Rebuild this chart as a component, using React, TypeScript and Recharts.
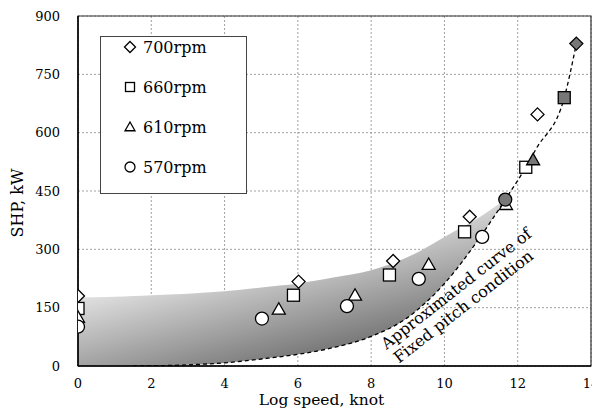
import {
  ComposedChart,
  Scatter,
  Line,
  Area,
  XAxis,
  YAxis,
  CartesianGrid,
  Legend,
  ReferenceArea,
  ReferenceDot,
} from 'recharts';

// measured points, one list per engine speed
const rpm700 = [
  { x: 0, y: 180 },
  { x: 6.02, y: 217 },
  { x: 8.6, y: 270 },
  { x: 10.69, y: 384 },
  { x: 12.54, y: 647 },
];
const rpm660 = [
  { x: 0, y: 148 },
  { x: 5.88, y: 182 },
  { x: 8.5, y: 234 },
  { x: 10.55, y: 345 },
  { x: 12.22, y: 511 },
];
const rpm610 = [
  { x: 0, y: 125 },
  { x: 5.48, y: 146 },
  { x: 7.56, y: 182 },
  { x: 9.57, y: 261 },
  { x: 11.68, y: 415 },
];
const rpm570 = [
  { x: 0, y: 101 },
  { x: 5.02, y: 122 },
  { x: 7.34, y: 154 },
  { x: 9.3, y: 224 },
  { x: 11.03, y: 332 },
];

// fixed pitch condition points (filled)
const fixed700 = [{ x: 13.6, y: 829 }];
const fixed660 = [{ x: 13.27, y: 690 }];
const fixed610 = [{ x: 12.42, y: 530 }];
const fixed570 = [{ x: 11.66, y: 428 }];

// approximated curve of fixed pitch condition
const curveX = [1.5, 2, 3, 4, 5, 6, 7, 8, 9, 10, 11, 11.66, 12.22, 12.5, 13.27, 13.6];
const curveY = [0, 0.5, 3, 8, 18, 30, 48, 76, 125, 212, 335, 428, 511, 558, 690, 829];

// shaded band: upper edge and lower edge
const bandX = [0, 1, 1.5, 2, 3, 4, 5, 6, 7, 8, 9, 10, 11, 11.66];
const bandHi = [176, 178, 180, 182, 186, 192, 202, 212, 228, 246, 280, 332, 385, 428];
const bandLo = [0, 0, 0, 0.5, 3, 8, 18, 30, 48, 76, 125, 212, 335, 428];

const xTicks = [0, 2, 4, 6, 8, 10, 12, 14];
const yTicks = [0, 150, 300, 450, 600, 750, 900];

const legendItems = [
  { kind: 'diamond', label: '700rpm' },
  { kind: 'square', label: '660rpm' },
  { kind: 'triangle', label: '610rpm' },
  { kind: 'circle', label: '570rpm' },
];

const curveData = curveX.map((x, i) => ({ x, y: curveY[i] }));
const bandData = bandX.map((x, i) => ({ x, range: [bandLo[i], bandHi[i]] }));

const FONT = '"DejaVu Serif", serif';

function Marker({ cx, cy, kind, filled, size = 6.5 }: any) {
  if (cx == null || cy == null) return null;
  const fill = filled ? '#777' : '#fff';
  const s = size;
  const common = { fill, stroke: '#000', strokeWidth: 1.3 };
  if (kind === 'diamond') {
    return <polygon points={`${cx},${cy - s} ${cx + s},${cy} ${cx},${cy + s} ${cx - s},${cy}`} {...common} />;
  }
  if (kind === 'square') {
    return <rect x={cx - s + 0.5} y={cy - s + 0.5} width={2 * s - 1} height={2 * s - 1} {...common} />;
  }
  if (kind === 'triangle') {
    return <polygon points={`${cx},${cy - s} ${cx + s},${cy + s * 0.75} ${cx - s},${cy + s * 0.75}`} {...common} />;
  }
  return <circle cx={cx} cy={cy} r={s} {...common} />;
}

function LegendBox() {
  return (
    <div
      style={{
        width: 145,
        height: 156,
        border: '1px solid #444',
        background: '#fff',
        position: 'relative',
        fontFamily: FONT,
        fontSize: 16,
      }}
    >
      {legendItems.map((it, i) => (
        <div
          key={it.label}
          style={{ position: 'absolute', left: 20, top: i * 40 - 1, height: 22, display: 'flex', alignItems: 'center' }}
        >
          <svg width={18} height={18}>
            <Marker cx={9} cy={9} kind={it.kind} size={it.kind === 'diamond' ? 5.5 : 5} />
          </svg>
          <span style={{ marginLeft: 4 }}>{it.label}</span>
        </div>
      ))}
    </div>
  );
}

function Annotation({ viewBox }: any) {
  const cx = viewBox.x + viewBox.width / 2 + 2;
  const cy = viewBox.y + viewBox.height / 2 + 2;
  const style = { fontFamily: FONT, fontSize: 16, fill: '#000' };
  return (
    <g>
      <text x={cx} y={cy} textAnchor="middle" transform={`rotate(-38 ${cx} ${cy})`} style={style}>
        Approximated curve of
      </text>
      <text x={cx + 7} y={cy + 18} textAnchor="middle" transform={`rotate(-38 ${cx + 7} ${cy + 18})`} style={style}>
        Fixed pitch condition
      </text>
    </g>
  );
}

function YLabel({ viewBox }: any) {
  const x = viewBox.x - 1;
  const y = viewBox.y + viewBox.height / 2 + 12;
  return (
    <text
      x={x}
      y={y}
      textAnchor="middle"
      dominantBaseline="central"
      transform={`rotate(-90 ${x} ${y})`}
      style={{ fontFamily: FONT, fontSize: 16 }}
    >
      SHP, kW
    </text>
  );
}

const shape = (kind: string, filled: boolean) => (p: any) => <Marker cx={p.cx} cy={p.cy} kind={kind} filled={filled} />;

export default function App() {
  return (
    <div style={{ margin: -8, width: 600, height: 416, background: '#fff' }}>
      <ComposedChart width={600} height={416} margin={{ top: 16, right: 9, bottom: 0, left: 18 }}>
        <defs>
          <linearGradient id="band" x1="0" y1="0.3" x2="0.45" y2="1">
            <stop offset="0" stopColor="#f2f2f2" />
            <stop offset="0.3" stopColor="#e0e0e0" />
            <stop offset="1" stopColor="#777" />
          </linearGradient>
        </defs>
        <Area
          data={bandData}
          dataKey="range"
          type="monotone"
          stroke="none"
          fill="url(#band)"
          fillOpacity={1}
          isAnimationActive={false}
          legendType="none"
        />
        <CartesianGrid stroke="#888" strokeDasharray="2 2" strokeWidth={0.8} />
        <XAxis
          type="number"
          dataKey="x"
          domain={[0, 14]}
          ticks={xTicks}
          allowDataOverflow
          height={50}
          tickLine={false}
          tickSize={6}
          tickMargin={7}
          axisLine={{ stroke: '#000', strokeWidth: 1.5 }}
          tick={{ fill: '#000', fontFamily: FONT, fontSize: 13 }}
          label={{
            value: 'Log speed, knot',
            position: 'insideBottom',
            offset: 11,
            dx: -13,
            style: { fontFamily: FONT, fontSize: 15.5, fill: '#000' },
          }}
        />
        <YAxis
          type="number"
          domain={[0, 900]}
          ticks={yTicks}
          allowDataOverflow
          width={60}
          tickLine={false}
          tickSize={6}
          tickMargin={12}
          axisLine={{ stroke: '#000', strokeWidth: 1.5 }}
          tick={{ fill: '#000', fontFamily: FONT, fontSize: 13 }}
          label={<YLabel />}
        />
        <ReferenceArea x1={0} x2={14} y1={0} y2={900} fill="none" stroke="#333" strokeWidth={1.2} />
        <Line
          data={curveData}
          dataKey="y"
          type="monotone"
          stroke="#000"
          strokeWidth={1.3}
          strokeDasharray="4 3"
          dot={false}
          isAnimationActive={false}
          legendType="none"
        />
        <Scatter data={rpm700} dataKey="y" shape={shape('diamond', false)} isAnimationActive={false} />
        <Scatter data={rpm660} dataKey="y" shape={shape('square', false)} isAnimationActive={false} />
        <Scatter data={rpm610} dataKey="y" shape={shape('triangle', false)} isAnimationActive={false} />
        <Scatter data={rpm570} dataKey="y" shape={shape('circle', false)} isAnimationActive={false} />
        <Scatter data={fixed700} dataKey="y" shape={shape('diamond', true)} isAnimationActive={false} />
        <Scatter data={fixed660} dataKey="y" shape={shape('square', true)} isAnimationActive={false} />
        <Scatter data={fixed610} dataKey="y" shape={shape('triangle', true)} isAnimationActive={false} />
        <Scatter data={fixed570} dataKey="y" shape={shape('circle', true)} isAnimationActive={false} />
        <ReferenceDot x={10.36} y={193} r={1} fill="none" stroke="none" label={<Annotation />} />
        <Legend
          layout="vertical"
          align="center"
          verticalAlign="middle"
          wrapperStyle={{ left: 100, top: 36, width: 147, height: 158 }}
          content={() => <LegendBox />}
        />
      </ComposedChart>
    </div>
  );
}
